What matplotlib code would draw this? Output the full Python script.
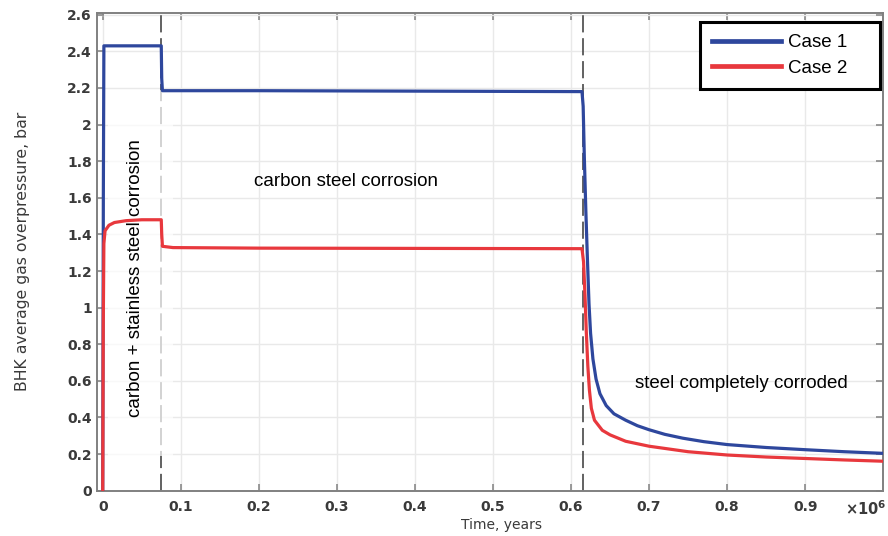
import matplotlib
matplotlib.use("Agg")
import matplotlib.pyplot as plt
from matplotlib.ticker import FuncFormatter
from matplotlib.patches import Rectangle

# Time in years, BHK average gas overpressure in bar
case1_time = [0, 800, 1500, 75000, 75600, 76500, 200000, 614000, 615500, 617000,
              619000, 621000, 623000, 625000, 628000, 632000, 637000, 645000,
              655000, 670000, 685000, 700000, 720000, 743000, 770000, 800000,
              850000, 900000, 950000, 1000000]
case1_value = [0, 1.6, 2.43, 2.43, 2.25, 2.185, 2.185, 2.18, 2.10, 1.82,
               1.52, 1.26, 1.02, 0.86, 0.72, 0.61, 0.53, 0.465,
               0.42, 0.385, 0.355, 0.333, 0.308, 0.287, 0.268, 0.252,
               0.236, 0.224, 0.213, 0.204]

case2_time = [0, 700, 1500, 3000, 8000, 15000, 30000, 50000, 75000, 75600,
              76500, 90000, 200000, 614000, 616000, 618000, 619500, 621500,
              623500, 626000, 630000, 640000, 650000, 670000, 700000, 750000,
              800000, 850000, 900000, 950000, 1000000]
case2_value = [0, 0.9, 1.35, 1.42, 1.45, 1.465, 1.475, 1.48, 1.48, 1.40,
               1.335, 1.328, 1.325, 1.322, 1.25, 1.05, 0.87, 0.68,
               0.55, 0.45, 0.385, 0.33, 0.305, 0.27, 0.243, 0.213,
               0.195, 0.184, 0.176, 0.168, 0.161]

phase_limits = [75000, 615000]
series_labels = ["Case 1", "Case 2"]
x_ticks = [0, 100000, 200000, 300000, 400000, 500000, 600000, 700000, 800000, 900000]
y_ticks = [0, 0.2, 0.4, 0.6, 0.8, 1.0, 1.2, 1.4, 1.6, 1.8, 2.0, 2.2, 2.4, 2.6]

blue = "#2E479D"
red = "#E8383D"
spine_gray = "#808080"
tick_color = "#3a3a3a"

fig = plt.figure(figsize=(8.88, 5.36), dpi=100)
ax = fig.add_axes([0.1089, 0.0845, 0.8858, 0.8918])

ax.set_xlim(-7700, 1000000)
ax.set_ylim(0, 2.611)

ax.grid(True, color="#e9e9e9", linewidth=1.0, zorder=0)
ax.set_axisbelow(True)

for xv in phase_limits:
    ax.axvline(xv, color="#555555", linewidth=1.3, linestyle=(0, (9.5, 3.2)), zorder=1)

# translucent panel behind the rotated phase label
ax.add_patch(Rectangle((0.0144, 0.073), 0.082, 0.765, transform=ax.transAxes,
                       facecolor="white", edgecolor="none", alpha=0.72, zorder=2))

ax.plot(case1_time, case1_value, color=blue, linewidth=2.3, label=series_labels[0],
        zorder=3, solid_joinstyle="round")
ax.plot(case2_time, case2_value, color=red, linewidth=2.3, label=series_labels[1],
        zorder=4, solid_joinstyle="round")

ax.set_xticks(x_ticks)
ax.set_yticks(y_ticks)
ax.xaxis.set_major_formatter(FuncFormatter(lambda v, p: f"{v / 1e6:g}"))
ax.yaxis.set_major_formatter(FuncFormatter(lambda v, p: f"{v:g}"))

ax.tick_params(axis="both", which="both", direction="in", length=5, width=1.1,
               color=spine_gray, top=True, right=True, labelcolor=tick_color,
               labelsize=10)
ax.tick_params(axis="x", pad=7)
ax.tick_params(axis="y", pad=3.5)
for lab in ax.get_xticklabels() + ax.get_yticklabels():
    lab.set_fontweight("bold")
    lab.set_family("DejaVu Sans")

for sp in ax.spines.values():
    sp.set_color(spine_gray)
    sp.set_linewidth(1.4)

ax.text(1.004, -0.037, r"$\mathbf{\times10^{6}}$", transform=ax.transAxes, ha="right",
        va="center", fontsize=10.5, color=tick_color)

ax.set_xlabel("Time, years", fontsize=10, color=tick_color, labelpad=1)
ax.xaxis.set_label_coords(0.514, -0.058)
ax.set_ylabel("BHK average gas overpressure, bar", fontsize=11.3, color=tick_color,
              labelpad=27)

ann_font = dict(family="Liberation Sans", fontsize=13.5, color="black")
ax.text(312000, 1.69, "carbon steel corrosion", ha="center", va="center", **ann_font)
ax.text(42000, 1.16, "carbon + stainless steel corrosion", rotation=90,
        ha="center", va="center", zorder=5, **ann_font)
ax.text(818000, 0.587, "steel completely corroded", ha="center", va="center", **ann_font)

leg = ax.legend(loc="upper left", bbox_to_anchor=(0.767, 0.8425, 0.2288, 0.138),
                mode="expand", borderaxespad=0,
                prop=dict(family="Liberation Sans", size=13.5), handlelength=3.65,
                handletextpad=0.4, labelspacing=0.45, borderpad=0.65,
                fancybox=False, framealpha=1, edgecolor="black")
leg.get_frame().set_linewidth(2.2)
for line in leg.get_lines():
    line.set_linewidth(3.4)

fig.savefig("out.png", dpi=100)
